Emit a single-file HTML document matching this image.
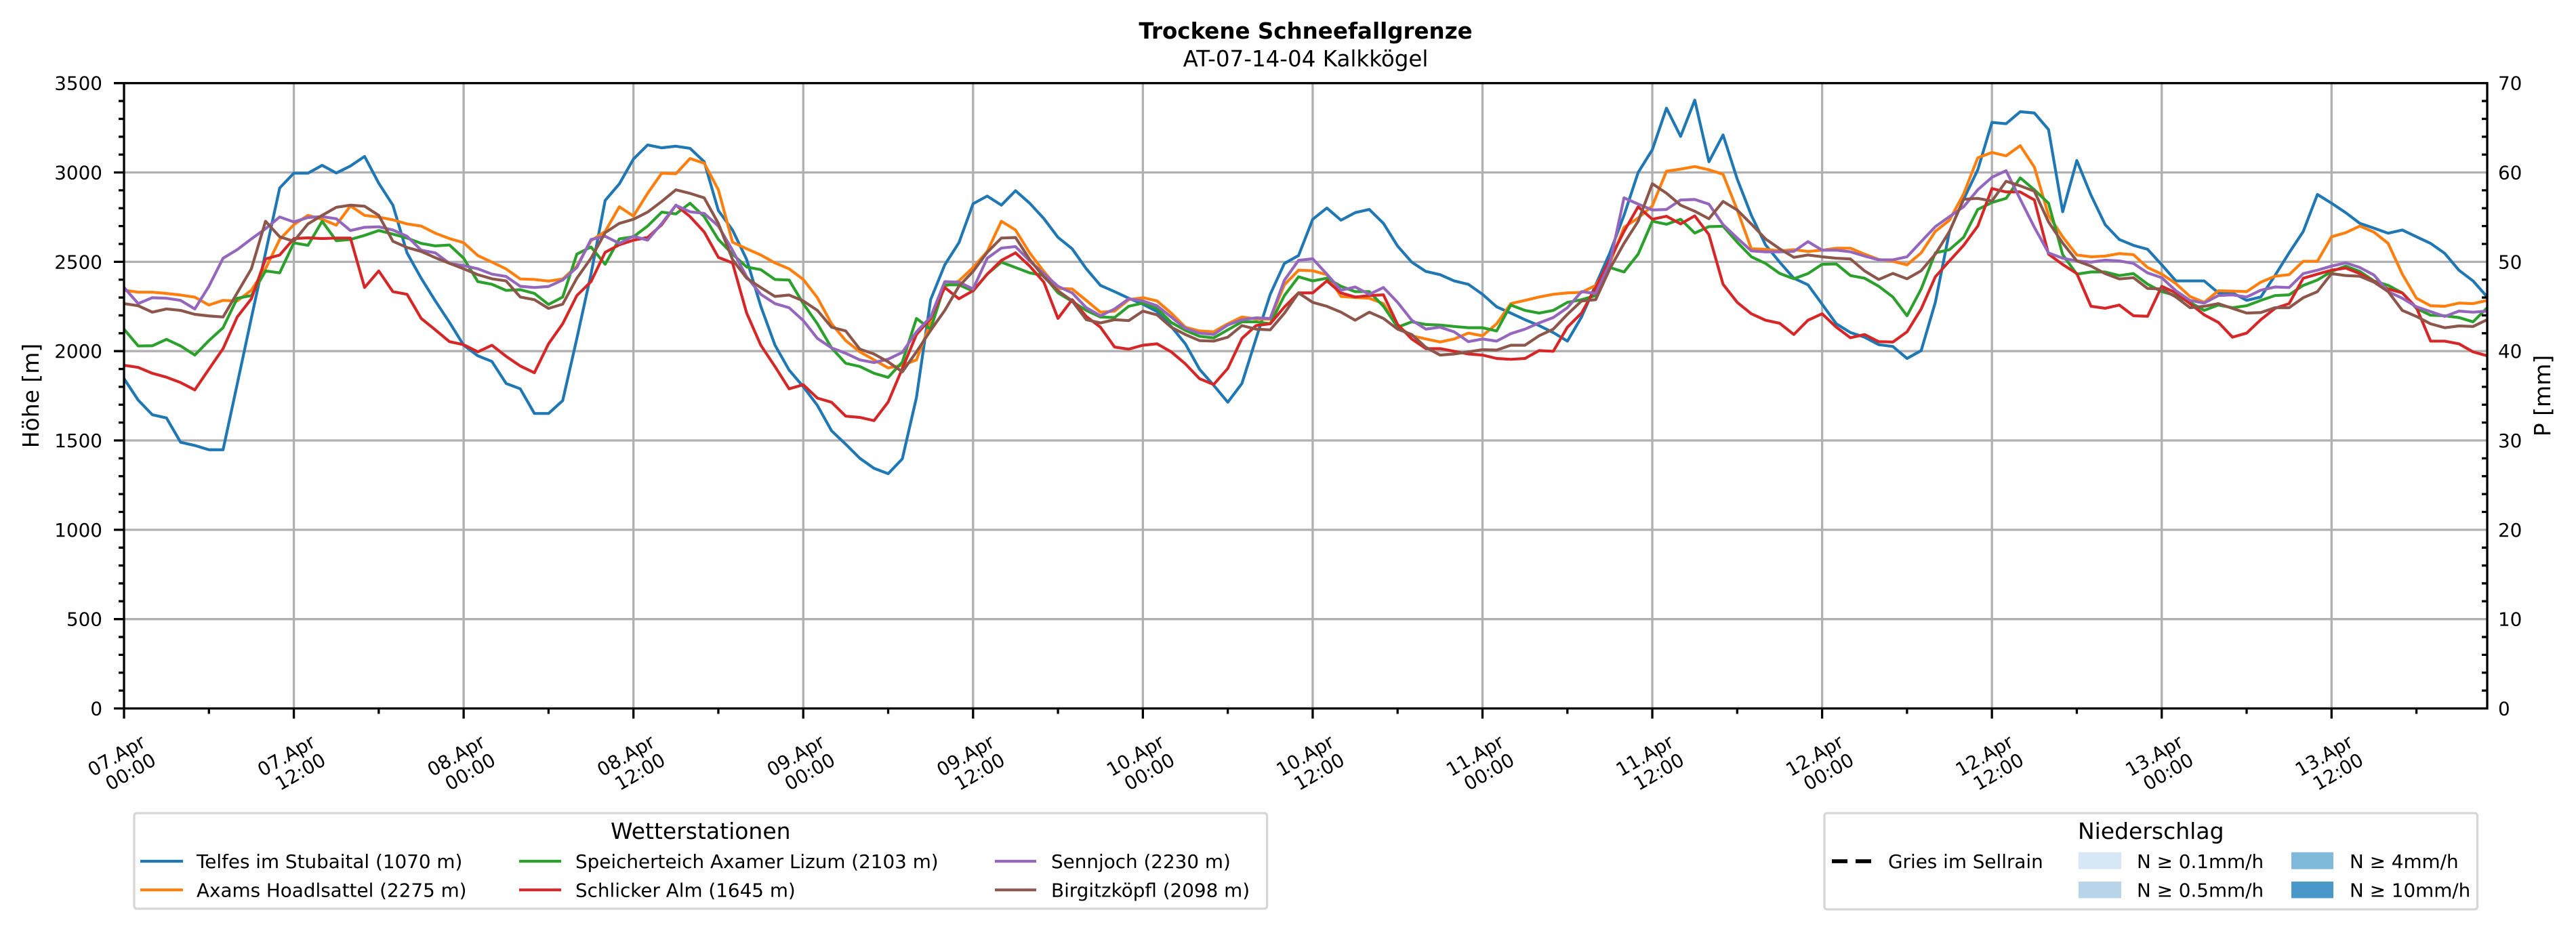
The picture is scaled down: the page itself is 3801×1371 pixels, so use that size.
<!DOCTYPE html>
<html><head><meta charset="utf-8"><style>
html,body{margin:0;padding:0;background:#fff;}
svg{display:block;}
text{font-family:"DejaVu Sans","Liberation Sans",sans-serif;fill:#000;}
.tk{font-size:27.8px;}
.lg{font-size:27.8px;}
</style></head><body>
<svg xmlns="http://www.w3.org/2000/svg" width="3801" height="1371" viewBox="0 0 3801 1371">
<rect x="0" y="0" width="3801" height="1371" fill="#fff"/>
<!-- title -->
<text x="1926.5" y="57" text-anchor="middle" font-size="32.5" font-weight="bold">Trockene Schneefallgrenze</text>
<text x="1926.5" y="98" text-anchor="middle" font-size="32.5">AT-07-14-04 Kalkkögel</text>
<!-- grid -->
<g stroke="#b0b0b0" stroke-width="3.3" fill="none">
<path d="M433.56 122.7V1045.5M684.12 122.7V1045.5M934.68 122.7V1045.5M1185.24 122.7V1045.5M1435.8 122.7V1045.5M1686.36 122.7V1045.5M1936.92 122.7V1045.5M2187.48 122.7V1045.5M2438.04 122.7V1045.5M2688.6 122.7V1045.5M2939.16 122.7V1045.5M3189.72 122.7V1045.5M3440.28 122.7V1045.5"/>
<path d="M183 913.67H3670M183 781.84H3670M183 650.01H3670M183 518.18H3670M183 386.35H3670M183 254.52H3670"/>
</g>
<!-- data -->
<g transform="translate(183,1045.5) scale(20.8802,-0.263657)" fill="none" stroke-width="4.2" stroke-linejoin="round">
<polyline vector-effect="non-scaling-stroke" stroke="#1f77b4" points="0,1846 1,1726 2,1644 3,1626 4,1490 5,1472 6,1448 7,1448 8,1816 9,2186 10,2550 11,2913 12,2996 13,2996 14,3040 15,2997 16,3036 17,3090 18,2940 19,2817 20,2550 21,2408 22,2281 23,2161 24,2033 25,1974 26,1942 27,1819 28,1789 29,1651 30,1651 31,1723 32,2071 33,2431 34,2843 35,2936 36,3075 37,3154 38,3138 39,3147 40,3135 41,3060 42,2787 43,2678 44,2513 45,2251 46,2034 47,1894 48,1801 49,1696 50,1554 51,1479 52,1400 53,1344 54,1314 55,1397 56,1741 57,2288 58,2483 59,2607 60,2825 61,2868 62,2817 63,2898 64,2828 65,2742 66,2637 67,2573 68,2461 69,2368 70,2333 71,2296 72,2263 73,2221 74,2138 75,2041 76,1899 77,1809 78,1714 79,1819 80,2071 81,2318 82,2491 83,2535 84,2738 85,2801 86,2733 87,2775 88,2793 89,2715 90,2588 91,2498 92,2446 93,2428 94,2393 95,2374 96,2318 97,2248 98,2213 99,2176 100,2143 101,2104 102,2056 103,2191 104,2371 105,2550 106,2760 107,3000 108,3127 109,3360 110,3202 111,3405 112,3060 113,3210 114,2963 115,2760 116,2595 117,2498 118,2408 119,2371 120,2263 121,2153 122,2104 123,2078 124,2036 125,2026 126,1959 127,2003 128,2273 129,2670 130,2850 131,3015 132,3280 133,3273 134,3340 135,3333 136,3240 137,2780 138,3067 139,2873 140,2708 141,2625 142,2592 143,2570 144,2483 145,2393 146,2393 147,2393 148,2326 149,2326 150,2284 151,2303 152,2423 153,2550 154,2670 155,2877 156,2828 157,2775 158,2715 159,2688 160,2660 161,2678 162,2640 163,2603 164,2547 165,2453 166,2393 167,2303"/>
<polyline vector-effect="non-scaling-stroke" stroke="#ff7f0e" points="0,2341 1,2330 2,2330 3,2323 4,2314 5,2302 6,2258 7,2284 8,2281 9,2341 10,2461 11,2625 12,2708 13,2760 14,2738 15,2705 16,2813 17,2760 18,2750 19,2735 20,2712 21,2700 22,2660 23,2630 24,2607 25,2535 26,2498 27,2460 28,2404 29,2401 30,2392 31,2404 32,2476 33,2618 34,2670 35,2808 36,2756 37,2883 38,2996 39,2993 40,3078 41,3052 42,2903 43,2610 44,2573 45,2538 46,2494 47,2461 48,2401 49,2299 50,2153 51,2059 52,1996 53,1951 54,1906 55,1921 56,1951 57,2161 58,2363 59,2393 60,2468 61,2558 62,2727 63,2678 64,2550 65,2446 66,2351 67,2348 68,2284 69,2218 70,2224 71,2288 72,2299 73,2281 74,2213 75,2134 76,2113 77,2108 78,2153 79,2191 80,2180 81,2179 82,2371 83,2453 84,2450 85,2428 86,2306 87,2300 88,2296 89,2266 90,2138 91,2086 92,2068 93,2051 94,2068 95,2101 96,2086 97,2153 98,2266 99,2284 100,2303 101,2318 102,2326 103,2329 104,2368 105,2491 106,2693 107,2745 108,2813 109,3007 110,3019 111,3033 112,3015 113,2990 114,2790 115,2573 116,2570 117,2561 118,2568 119,2558 120,2565 121,2576 122,2576 123,2543 124,2513 125,2503 126,2483 127,2550 128,2670 129,2733 130,2880 131,3082 132,3112 133,3093 134,3150 135,3030 136,2760 137,2640 138,2538 139,2528 140,2532 141,2546 142,2540 143,2468 144,2431 145,2378 146,2306 147,2273 148,2338 149,2336 150,2333 151,2386 152,2419 153,2428 154,2503 155,2503 156,2640 157,2663 158,2700 159,2666 160,2603 161,2431 162,2296 163,2254 164,2251 165,2269 166,2266 167,2284"/>
<polyline vector-effect="non-scaling-stroke" stroke="#2ca02c" points="0,2123 1,2029 2,2030 3,2066 4,2029 5,1978 6,2059 7,2131 8,2296 9,2311 10,2449 11,2438 12,2606 13,2592 14,2727 15,2618 16,2625 17,2648 18,2675 19,2655 20,2633 21,2603 22,2589 23,2594 24,2520 25,2389 26,2374 27,2340 28,2344 29,2323 30,2261 31,2303 32,2543 33,2583 34,2486 35,2628 36,2640 37,2700 38,2778 39,2768 40,2828 41,2753 42,2625 43,2543 44,2471 45,2456 46,2401 47,2398 48,2266 49,2153 50,2018 51,1932 52,1914 53,1876 54,1853 55,1939 56,2183 57,2123 58,2371 59,2371 60,2336 61,2431 62,2498 63,2468 64,2438 65,2423 66,2326 67,2278 68,2228 69,2191 70,2188 71,2251 72,2269 73,2239 74,2161 75,2116 76,2083 77,2074 78,2119 79,2164 80,2164 81,2153 82,2311 83,2416 84,2393 85,2408 86,2363 87,2333 88,2333 89,2251 90,2134 91,2164 92,2149 93,2146 94,2138 95,2131 96,2131 97,2113 98,2258 99,2228 100,2213 101,2228 102,2273 103,2288 104,2311 105,2468 106,2443 107,2543 108,2727 109,2710 110,2738 111,2661 112,2697 113,2699 114,2610 115,2528 116,2491 117,2435 118,2405 119,2434 120,2486 121,2488 122,2423 123,2408 124,2363 125,2303 126,2198 127,2348 128,2550 129,2568 130,2637 131,2793 132,2832 133,2855 134,2970 135,2903 136,2828 137,2540 138,2431 139,2443 140,2443 141,2423 142,2434 143,2375 144,2333 145,2311 146,2273 147,2228 148,2258 149,2243 150,2254 151,2284 152,2311 153,2315 154,2368 155,2398 156,2446 157,2476 158,2446 159,2393 160,2368 161,2326 162,2239 163,2201 164,2198 165,2188 166,2164 167,2243"/>
<polyline vector-effect="non-scaling-stroke" stroke="#d62728" points="0,1921 1,1909 2,1876 3,1854 4,1824 5,1783 6,1899 7,2014 8,2191 9,2293 10,2516 11,2538 12,2630 13,2634 14,2630 15,2633 16,2633 17,2356 18,2449 19,2333 20,2318 21,2183 22,2119 23,2053 24,2036 25,1996 26,2033 27,1971 28,1917 29,1879 30,2041 31,2153 32,2311 33,2389 34,2553 35,2595 36,2621 37,2636 38,2708 39,2817 40,2753 41,2667 42,2525 43,2494 44,2213 45,2033 46,1914 47,1789 48,1812 49,1737 50,1714 51,1636 52,1629 53,1611 54,1715 55,1903 56,2093 57,2183 58,2356 59,2293 60,2338 61,2431 62,2508 63,2550 64,2476 65,2386 66,2183 67,2288 68,2194 69,2134 70,2023 71,2011 72,2033 73,2041 74,1996 75,1929 76,1846 77,1813 78,1903 79,2071 80,2143 81,2153 82,2247 83,2326 84,2326 85,2393 86,2326 87,2303 88,2311 89,2315 90,2149 91,2068 92,2014 93,2014 94,1999 95,1984 96,1978 97,1959 98,1954 99,1959 100,2003 101,1999 102,2134 103,2213 104,2356 105,2513 106,2670 107,2808 108,2738 109,2755 110,2712 111,2757 112,2652 113,2374 114,2273 115,2209 116,2173 117,2156 118,2093 119,2173 120,2209 121,2134 122,2075 123,2093 124,2053 125,2051 126,2108 127,2236 128,2416 129,2505 130,2592 131,2700 132,2910 133,2891 134,2891 135,2846 136,2543 137,2485 138,2434 139,2251 140,2240 141,2258 142,2198 143,2195 144,2363 145,2326 146,2266 147,2203 148,2161 149,2078 150,2101 151,2176 152,2239 153,2266 154,2408 155,2431 156,2453 157,2465 158,2434 159,2389 160,2348 161,2326 162,2243 163,2056 164,2056 165,2041 166,1996 167,1974"/>
<polyline vector-effect="non-scaling-stroke" stroke="#9467bd" points="0,2356 1,2266 2,2299 3,2296 4,2284 5,2236 6,2363 7,2520 8,2568 9,2628 10,2685 11,2751 12,2723 13,2748 14,2753 15,2741 16,2675 17,2693 18,2696 19,2678 20,2643 21,2565 22,2550 23,2491 24,2479 25,2461 26,2431 27,2418 28,2363 29,2356 30,2362 31,2398 32,2468 33,2625 34,2643 35,2603 36,2643 37,2621 38,2715 39,2816 40,2780 41,2771 42,2700 43,2565 44,2416 45,2318 46,2266 47,2243 48,2171 49,2071 50,2018 51,1988 52,1951 53,1936 54,1955 55,1993 56,2108 57,2191 58,2389 59,2386 60,2348 61,2520 62,2577 63,2585 64,2505 65,2434 66,2363 67,2326 68,2243 69,2198 70,2236 71,2293 72,2281 73,2254 74,2191 75,2128 76,2101 77,2093 78,2146 79,2176 80,2186 81,2183 82,2397 83,2508 84,2517 85,2431 86,2341 87,2359 88,2318 89,2356 90,2273 91,2173 92,2123 93,2134 94,2108 95,2053 96,2068 97,2056 98,2098 99,2123 100,2158 101,2188 102,2243 103,2333 104,2323 105,2491 106,2858 107,2823 108,2790 109,2793 110,2846 111,2849 112,2823 113,2708 114,2633 115,2561 116,2556 117,2556 118,2558 119,2613 120,2565 121,2565 122,2556 123,2532 124,2511 125,2511 126,2528 127,2613 128,2697 129,2753 130,2808 131,2903 132,2973 133,3010 134,2850 135,2693 136,2550 137,2520 138,2505 139,2498 140,2509 141,2505 142,2491 143,2438 144,2411 145,2338 146,2284 147,2269 148,2311 149,2315 150,2303 151,2341 152,2359 153,2356 154,2434 155,2453 156,2476 157,2494 158,2468 159,2426 160,2333 161,2296 162,2248 163,2221 164,2194 165,2224 166,2218 167,2224"/>
<polyline vector-effect="non-scaling-stroke" stroke="#8c564b" points="0,2266 1,2254 2,2218 3,2236 4,2228 5,2206 6,2197 7,2191 8,2326 9,2461 10,2727 11,2640 12,2615 13,2712 14,2760 15,2805 16,2817 17,2811 18,2760 19,2615 20,2580 21,2558 22,2523 23,2491 24,2461 25,2428 26,2405 27,2393 28,2303 29,2288 30,2239 31,2263 32,2408 33,2520 34,2663 35,2715 36,2738 37,2778 38,2838 39,2903 40,2883 41,2858 42,2715 43,2513 44,2408 45,2356 46,2306 47,2314 48,2281 49,2228 50,2134 51,2113 52,2011 53,1984 54,1940 55,1884 56,1996 57,2116 58,2228 59,2363 60,2446 61,2553 62,2633 63,2636 64,2513 65,2416 66,2338 67,2281 68,2176 69,2158 70,2176 71,2171 72,2224 73,2203 74,2134 75,2093 76,2059 77,2056 78,2078 79,2143 80,2123 81,2119 82,2212 83,2326 84,2273 85,2251 86,2218 87,2173 88,2218 89,2183 90,2123 91,2093 92,2021 93,1978 94,1984 95,1996 96,2008 97,2006 98,2033 99,2033 100,2086 101,2123 102,2206 103,2281 104,2288 105,2461 106,2603 107,2727 108,2937 109,2884 110,2817 111,2783 112,2741 113,2838 114,2790 115,2711 116,2628 117,2573 118,2525 119,2538 120,2528 121,2520 122,2516 123,2449 124,2401 125,2435 126,2405 127,2450 128,2543 129,2670 130,2850 131,2855 132,2840 133,2951 134,2925 135,2895 136,2723 137,2605 138,2505 139,2476 140,2434 141,2404 142,2411 143,2351 144,2348 145,2303 146,2243 147,2251 148,2266 149,2239 150,2213 151,2216 152,2243 153,2243 154,2299 155,2333 156,2434 157,2423 158,2419 159,2386 160,2333 161,2228 162,2194 163,2153 164,2131 165,2141 166,2138 167,2176"/>
</g>
<!-- ticks -->
<g stroke="#000" stroke-width="3.3" fill="none">
<path d="M168 1045.5h15M168 913.67h15M168 781.84h15M168 650.01h15M168 518.18h15M168 386.35h15M168 254.52h15M168 122.69h15"/>
<path d="M175 1019.13h8M175 992.77h8M175 966.40h8M175 940.04h8M175 887.30h8M175 860.94h8M175 834.57h8M175 808.21h8M175 755.47h8M175 729.11h8M175 702.74h8M175 676.38h8M175 623.64h8M175 597.28h8M175 570.91h8M175 544.55h8M175 491.81h8M175 465.45h8M175 439.08h8M175 412.72h8M175 359.98h8M175 333.62h8M175 307.25h8M175 280.89h8M175 228.15h8M175 201.79h8M175 175.42h8M175 149.06h8"/>
<path d="M3662 1019.13h8M3662 992.77h8M3662 966.40h8M3662 940.04h8M3662 887.30h8M3662 860.94h8M3662 834.57h8M3662 808.21h8M3662 755.47h8M3662 729.11h8M3662 702.74h8M3662 676.38h8M3662 623.64h8M3662 597.28h8M3662 570.91h8M3662 544.55h8M3662 491.81h8M3662 465.45h8M3662 439.08h8M3662 412.72h8M3662 359.98h8M3662 333.62h8M3662 307.25h8M3662 280.89h8M3662 228.15h8M3662 201.79h8M3662 175.42h8M3662 149.06h8"/>
<path d="M183 1045.5v15M433.56 1045.5v15M684.12 1045.5v15M934.68 1045.5v15M1185.24 1045.5v15M1435.8 1045.5v15M1686.36 1045.5v15M1936.92 1045.5v15M2187.48 1045.5v15M2438.04 1045.5v15M2688.6 1045.5v15M2939.16 1045.5v15M3189.72 1045.5v15M3440.28 1045.5v15"/>
<path d="M308.28 1045.5v8M558.84 1045.5v8M809.4 1045.5v8M1059.96 1045.5v8M1310.52 1045.5v8M1561.08 1045.5v8M1811.64 1045.5v8M2062.2 1045.5v8M2312.76 1045.5v8M2563.32 1045.5v8M2813.88 1045.5v8M3064.44 1045.5v8M3315 1045.5v8M3565.56 1045.5v8"/>
<rect x="183" y="122.7" width="3487" height="922.8"/>
</g>
<!-- y tick labels -->
<g class="tk" text-anchor="end">
<text x="151" y="1055.5">0</text>
<text x="151" y="923.7">500</text>
<text x="151" y="791.8">1000</text>
<text x="151" y="660">1500</text>
<text x="151" y="528.2">2000</text>
<text x="151" y="396.4">2500</text>
<text x="151" y="264.5">3000</text>
<text x="151" y="132.7">3500</text>
</g>
<g class="tk" text-anchor="start">
<text x="3686" y="1055.5">0</text>
<text x="3686" y="923.7">10</text>
<text x="3686" y="791.8">20</text>
<text x="3686" y="660">30</text>
<text x="3686" y="528.2">40</text>
<text x="3686" y="396.4">50</text>
<text x="3686" y="264.5">60</text>
<text x="3686" y="132.7">70</text>
</g>
<text transform="translate(57,584) rotate(-90)" text-anchor="middle" font-size="33">Höhe [m]</text>
<text transform="translate(3763,584) rotate(-90)" text-anchor="middle" font-size="33">P [mm]</text>
<!-- x tick labels -->
<g class="tk" text-anchor="end">
<g transform="translate(180,1128) rotate(-30)"><text x="45.5" y="-5.5">07.Apr</text><text x="45.5" y="25.5">00:00</text></g>
<g transform="translate(430.56,1128) rotate(-30)"><text x="45.5" y="-5.5">07.Apr</text><text x="45.5" y="25.5">12:00</text></g>
<g transform="translate(681.12,1128) rotate(-30)"><text x="45.5" y="-5.5">08.Apr</text><text x="45.5" y="25.5">00:00</text></g>
<g transform="translate(931.68,1128) rotate(-30)"><text x="45.5" y="-5.5">08.Apr</text><text x="45.5" y="25.5">12:00</text></g>
<g transform="translate(1182.24,1128) rotate(-30)"><text x="45.5" y="-5.5">09.Apr</text><text x="45.5" y="25.5">00:00</text></g>
<g transform="translate(1432.8,1128) rotate(-30)"><text x="45.5" y="-5.5">09.Apr</text><text x="45.5" y="25.5">12:00</text></g>
<g transform="translate(1683.36,1128) rotate(-30)"><text x="45.5" y="-5.5">10.Apr</text><text x="45.5" y="25.5">00:00</text></g>
<g transform="translate(1933.92,1128) rotate(-30)"><text x="45.5" y="-5.5">10.Apr</text><text x="45.5" y="25.5">12:00</text></g>
<g transform="translate(2184.48,1128) rotate(-30)"><text x="45.5" y="-5.5">11.Apr</text><text x="45.5" y="25.5">00:00</text></g>
<g transform="translate(2435.04,1128) rotate(-30)"><text x="45.5" y="-5.5">11.Apr</text><text x="45.5" y="25.5">12:00</text></g>
<g transform="translate(2685.6,1128) rotate(-30)"><text x="45.5" y="-5.5">12.Apr</text><text x="45.5" y="25.5">00:00</text></g>
<g transform="translate(2936.16,1128) rotate(-30)"><text x="45.5" y="-5.5">12.Apr</text><text x="45.5" y="25.5">12:00</text></g>
<g transform="translate(3186.72,1128) rotate(-30)"><text x="45.5" y="-5.5">13.Apr</text><text x="45.5" y="25.5">00:00</text></g>
<g transform="translate(3437.28,1128) rotate(-30)"><text x="45.5" y="-5.5">13.Apr</text><text x="45.5" y="25.5">12:00</text></g>
</g>
<!-- legend 1 -->
<rect x="198" y="1200" width="1671.6" height="141" rx="4" ry="4" fill="#fff" stroke="#d6d6d6" stroke-width="3.3"/>
<text x="1033.8" y="1238" text-anchor="middle" font-size="33">Wetterstationen</text>
<g stroke-width="4.2">
<line x1="207" y1="1271" x2="270" y2="1271" stroke="#1f77b4"/>
<line x1="207" y1="1313.3" x2="270" y2="1313.3" stroke="#ff7f0e"/>
<line x1="766" y1="1271" x2="828" y2="1271" stroke="#2ca02c"/>
<line x1="766" y1="1313.3" x2="828" y2="1313.3" stroke="#d62728"/>
<line x1="1468" y1="1271" x2="1529" y2="1271" stroke="#9467bd"/>
<line x1="1468" y1="1313.3" x2="1529" y2="1313.3" stroke="#8c564b"/>
</g>
<g class="lg">
<text x="290" y="1281">Telfes im Stubaital (1070 m)</text>
<text x="290" y="1323.7">Axams Hoadlsattel (2275 m)</text>
<text x="849" y="1281">Speicherteich Axamer Lizum (2103 m)</text>
<text x="849" y="1323.7">Schlicker Alm (1645 m)</text>
<text x="1551" y="1281">Sennjoch (2230 m)</text>
<text x="1551" y="1323.7">Birgitzköpfl (2098 m)</text>
</g>
<!-- legend 2 -->
<rect x="2692" y="1200" width="963.5" height="142" rx="4" ry="4" fill="#fff" stroke="#d6d6d6" stroke-width="3.3"/>
<text x="3173.75" y="1238" text-anchor="middle" font-size="33">Niederschlag</text>
<line x1="2703" y1="1271" x2="2761" y2="1271" stroke="#000" stroke-width="5.8" stroke-dasharray="23,12"/>
<rect x="3067" y="1257.7" width="63" height="25" fill="#d8e7f5"/>
<rect x="3067" y="1301" width="63" height="24.5" fill="#b8d5ea"/>
<rect x="3381" y="1257.7" width="62" height="25" fill="#80b9da"/>
<rect x="3381" y="1301" width="62" height="24.5" fill="#4a98c9"/>
<g class="lg">
<text x="2786" y="1281">Gries im Sellrain</text>
<text x="3153" y="1281">N ≥ 0.1mm/h</text>
<text x="3153" y="1323.7">N ≥ 0.5mm/h</text>
<text x="3467" y="1281">N ≥ 4mm/h</text>
<text x="3467" y="1323.7">N ≥ 10mm/h</text>
</g>
</svg>
</body></html>
